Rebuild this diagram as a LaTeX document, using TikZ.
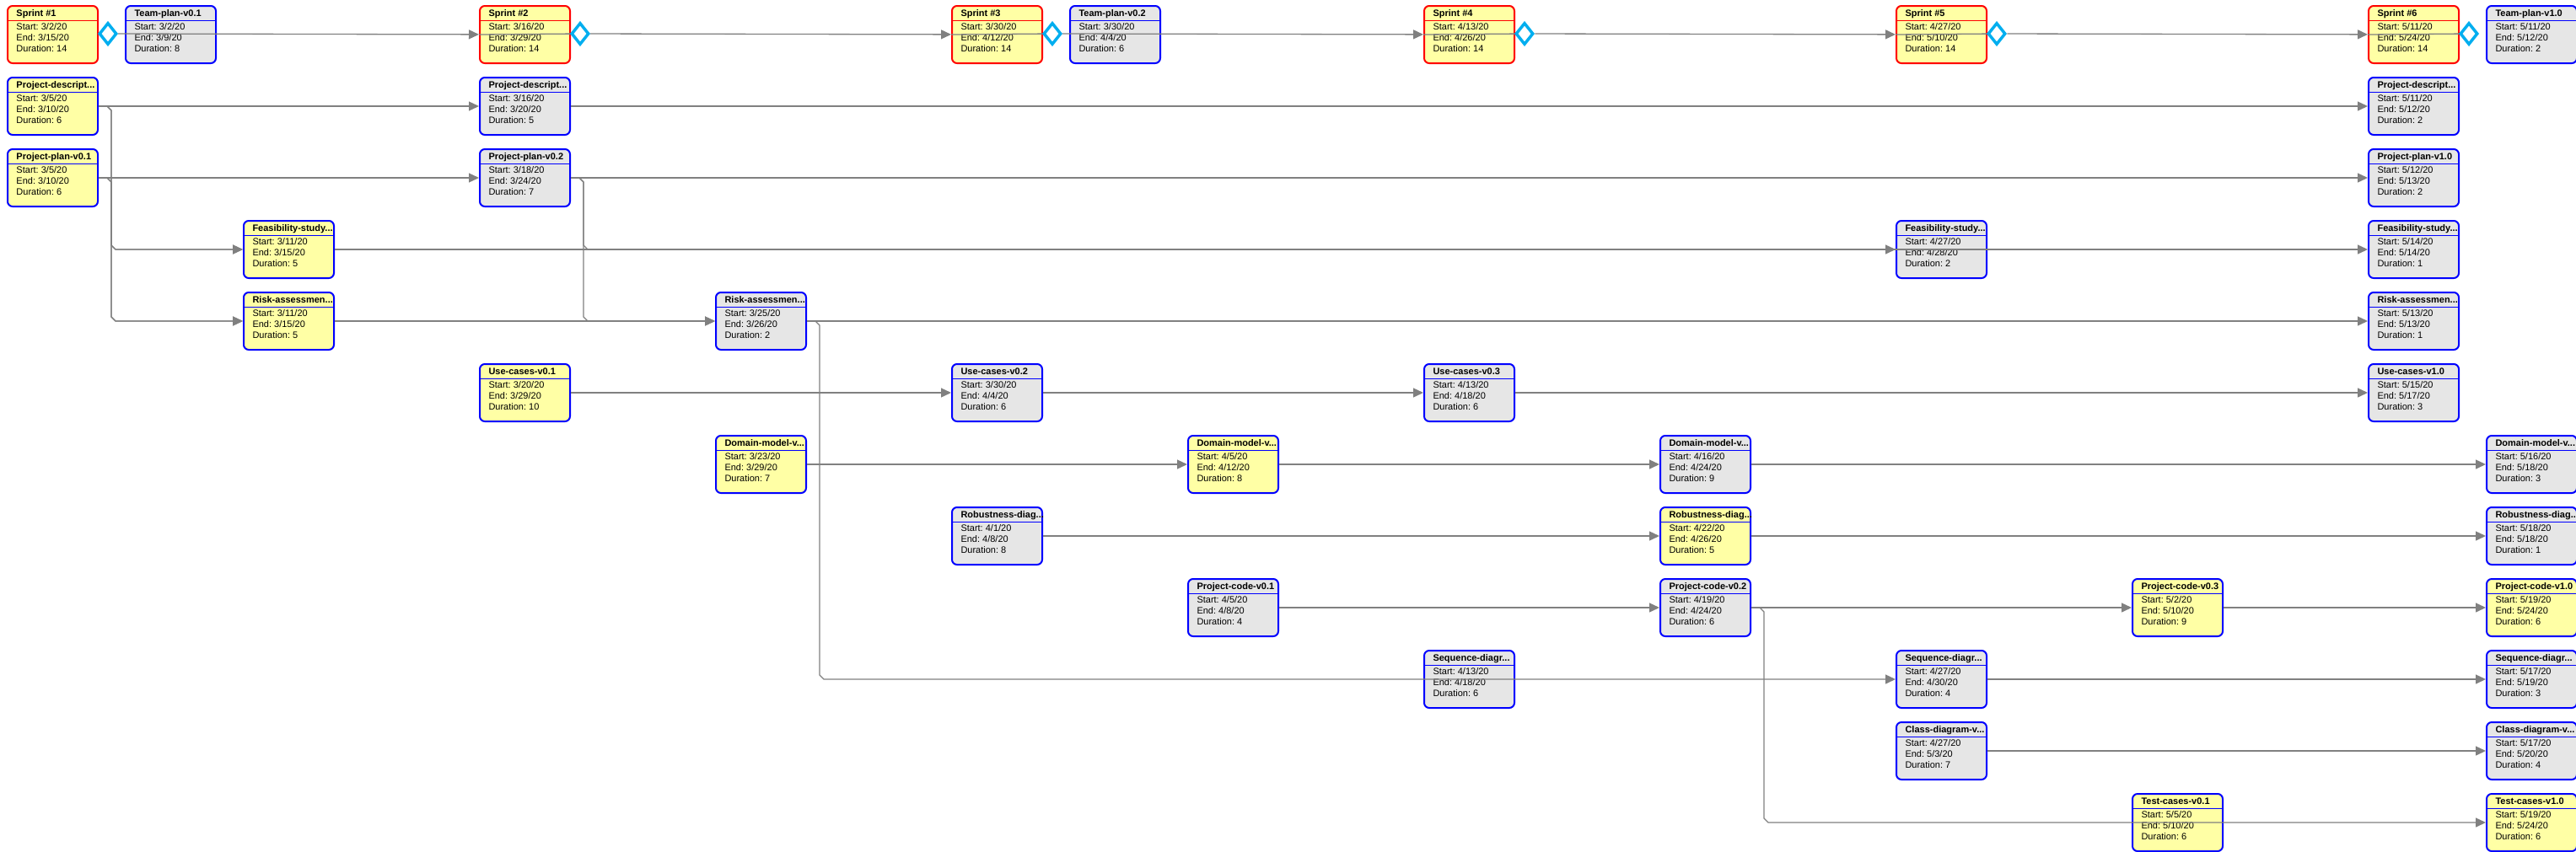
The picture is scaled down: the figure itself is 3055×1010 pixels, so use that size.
\documentclass[tikz,border=0pt]{standalone}
\usepackage{fontspec}
\setmainfont{Liberation Sans}
\usetikzlibrary{shapes.geometric,arrows.meta,calc}
\definecolor{tyellow}{RGB}{255,255,165}
\definecolor{tgrey}{RGB}{230,230,230}
\definecolor{mscyan}{RGB}{0,174,239}
\definecolor{linkgrey}{RGB}{128,128,128}
\newcommand{\card}[4]{\parbox[c][68pt][t]{86pt}{\frenchspacing\rule{0pt}{12.8pt}\makebox[86pt][l]{\bfseries #1}\\[2.9pt]Start: #2\\End: #3\\Duration: #4}}
\begin{document}
\begin{tikzpicture}[x=1pt,y=1pt,
  box/.style={draw=#1, line width=2pt, rounded corners=6pt, anchor=north west, inner xsep=10.5pt, inner ysep=0pt, font=\fontsize{11}{12.8}\selectfont,
    path picture={\draw[#1, line width=1pt] ([yshift=-17.3pt]path picture bounding box.north west) -- ([yshift=-17.3pt]path picture bounding box.north east);}},
  sprint/.style={box=red, fill=tyellow},
  ytask/.style={box=blue, fill=tyellow},
  gtask/.style={box=blue, fill=tgrey},
  ms/.style={diamond, draw=mscyan, line width=3.5pt, fill=white, minimum width=21pt, minimum height=26pt, inner sep=0pt},
  wire/.style={draw=linkgrey, line width=1.3pt},
  link/.style={wire, -{Triangle[length=12pt,width=11pt]}}]
\useasboundingbox (0,0) rectangle (3055,-1010);
\node[sprint] (sp1) at (8,-6){\card{Sprint \#1}{3/2/20}{3/15/20}{14}};
\node[gtask] (tp1) at (148,-6){\card{Team-plan-v0.1}{3/2/20}{3/9/20}{8}};
\node[sprint] (sp2) at (568,-6){\card{Sprint \#2}{3/16/20}{3/29/20}{14}};
\node[sprint] (sp3) at (1128,-6){\card{Sprint \#3}{3/30/20}{4/12/20}{14}};
\node[gtask] (tp2) at (1268,-6){\card{Team-plan-v0.2}{3/30/20}{4/4/20}{6}};
\node[sprint] (sp4) at (1688,-6){\card{Sprint \#4}{4/13/20}{4/26/20}{14}};
\node[sprint] (sp5) at (2248,-6){\card{Sprint \#5}{4/27/20}{5/10/20}{14}};
\node[sprint] (sp6) at (2808,-6){\card{Sprint \#6}{5/11/20}{5/24/20}{14}};
\node[gtask] (tp3) at (2948,-6){\card{Team-plan-v1.0}{5/11/20}{5/12/20}{2}};
\node[ytask] (pd1) at (8,-91){\card{Project-descript...}{3/5/20}{3/10/20}{6}};
\node[gtask] (pd2) at (568,-91){\card{Project-descript...}{3/16/20}{3/20/20}{5}};
\node[gtask] (pd3) at (2808,-91){\card{Project-descript...}{5/11/20}{5/12/20}{2}};
\node[ytask] (pp1) at (8,-176){\card{Project-plan-v0.1}{3/5/20}{3/10/20}{6}};
\node[gtask] (pp2) at (568,-176){\card{Project-plan-v0.2}{3/18/20}{3/24/20}{7}};
\node[gtask] (pp3) at (2808,-176){\card{Project-plan-v1.0}{5/12/20}{5/13/20}{2}};
\node[ytask] (fs1) at (288,-261){\card{Feasibility-study...}{3/11/20}{3/15/20}{5}};
\node[gtask] (fs2) at (2248,-261){\card{Feasibility-study...}{4/27/20}{4/28/20}{2}};
\node[gtask] (fs3) at (2808,-261){\card{Feasibility-study...}{5/14/20}{5/14/20}{1}};
\node[ytask] (ra1) at (288,-346){\card{Risk-assessmen...}{3/11/20}{3/15/20}{5}};
\node[gtask] (ra2) at (848,-346){\card{Risk-assessmen...}{3/25/20}{3/26/20}{2}};
\node[gtask] (ra3) at (2808,-346){\card{Risk-assessmen...}{5/13/20}{5/13/20}{1}};
\node[ytask] (uc1) at (568,-431){\card{Use-cases-v0.1}{3/20/20}{3/29/20}{10}};
\node[gtask] (uc2) at (1128,-431){\card{Use-cases-v0.2}{3/30/20}{4/4/20}{6}};
\node[gtask] (uc3) at (1688,-431){\card{Use-cases-v0.3}{4/13/20}{4/18/20}{6}};
\node[gtask] (uc4) at (2808,-431){\card{Use-cases-v1.0}{5/15/20}{5/17/20}{3}};
\node[ytask] (do1) at (848,-516){\card{Domain-model-v...}{3/23/20}{3/29/20}{7}};
\node[ytask] (do2) at (1408,-516){\card{Domain-model-v...}{4/5/20}{4/12/20}{8}};
\node[gtask] (do3) at (1968,-516){\card{Domain-model-v...}{4/16/20}{4/24/20}{9}};
\node[gtask] (do4) at (2948,-516){\card{Domain-model-v...}{5/16/20}{5/18/20}{3}};
\node[gtask] (rb1) at (1128,-601){\card{Robustness-diag...}{4/1/20}{4/8/20}{8}};
\node[ytask] (rb2) at (1968,-601){\card{Robustness-diag...}{4/22/20}{4/26/20}{5}};
\node[gtask] (rb3) at (2948,-601){\card{Robustness-diag...}{5/18/20}{5/18/20}{1}};
\node[gtask] (pc1) at (1408,-686){\card{Project-code-v0.1}{4/5/20}{4/8/20}{4}};
\node[gtask] (pc2) at (1968,-686){\card{Project-code-v0.2}{4/19/20}{4/24/20}{6}};
\node[ytask] (pc3) at (2528,-686){\card{Project-code-v0.3}{5/2/20}{5/10/20}{9}};
\node[ytask] (pc4) at (2948,-686){\card{Project-code-v1.0}{5/19/20}{5/24/20}{6}};
\node[gtask] (sd1) at (1688,-771){\card{Sequence-diagr...}{4/13/20}{4/18/20}{6}};
\node[gtask] (sd2) at (2248,-771){\card{Sequence-diagr...}{4/27/20}{4/30/20}{4}};
\node[gtask] (sd3) at (2948,-771){\card{Sequence-diagr...}{5/17/20}{5/19/20}{3}};
\node[gtask] (cd1) at (2248,-856){\card{Class-diagram-v...}{4/27/20}{5/3/20}{7}};
\node[gtask] (cd2) at (2948,-856){\card{Class-diagram-v...}{5/17/20}{5/20/20}{4}};
\node[ytask] (tc1) at (2528,-941){\card{Test-cases-v0.1}{5/5/20}{5/10/20}{6}};
\node[ytask] (tc2) at (2948,-941){\card{Test-cases-v1.0}{5/19/20}{5/24/20}{6}};
\node[ms] (ms1) at (128,-40){};
\node[ms] (ms2) at (688,-40){};
\node[ms] (ms3) at (1248,-40){};
\node[ms] (ms4) at (1808,-40){};
\node[ms] (ms5) at (2368,-40){};
\node[ms] (ms6) at (2928,-40){};
\draw[link] (ms1) -- (sp2);
\draw[wire] (sp2.west) -- (ms2);
\draw[link] (ms2) -- (sp3);
\draw[wire] (sp3.west) -- (ms3);
\draw[link] (ms3) -- (sp4);
\draw[wire] (sp4.west) -- (ms4);
\draw[link] (ms4) -- (sp5);
\draw[wire] (sp5.west) -- (ms5);
\draw[link] (ms5) -- (sp6);
\draw[wire] (sp6.west) -- (ms6);
\draw[link] (pd1) -- (pd2);
\draw[link] (pd2) -- (pd3);
\draw[link] (pp1) -- (pp2);
\draw[link] (pp2) -- (pp3);
\draw[link] (pd1.east) -- ++(10,0) -- ++(5,-5) -- ($(pd1.east |- fs1.west)+(15,5)$) -- ($(pd1.east |- fs1.west)+(20,0)$) -- (fs1.west);
\draw[link] (pd1.east) -- ++(10,0) -- ++(5,-5) -- ($(pd1.east |- ra1.west)+(15,5)$) -- ($(pd1.east |- ra1.west)+(20,0)$) -- (ra1.west);
\draw[link] (pp1.east) -- ++(10,0) -- ++(5,-5) -- ($(pp1.east |- fs1.west)+(15,5)$) -- ($(pp1.east |- fs1.west)+(20,0)$) -- (fs1.west);
\draw[link] (pp1.east) -- ++(10,0) -- ++(5,-5) -- ($(pp1.east |- ra1.west)+(15,5)$) -- ($(pp1.east |- ra1.west)+(20,0)$) -- (ra1.west);
\draw[link] (pp2.east) -- ++(10,0) -- ++(5,-5) -- ($(pp2.east |- fs2.west)+(15,5)$) -- ($(pp2.east |- fs2.west)+(20,0)$) -- (fs2.west);
\draw[link] (pp2.east) -- ++(10,0) -- ++(5,-5) -- ($(pp2.east |- ra2.west)+(15,5)$) -- ($(pp2.east |- ra2.west)+(20,0)$) -- (ra2.west);
\draw[link] (fs1) -- (fs3);
\draw[link] (ra1) -- (ra2);
\draw[link] (ra2) -- (ra3);
\draw[link] (ra2.east) -- ++(10,0) -- ++(5,-5) -- ($(ra2.east |- sd2.west)+(15,5)$) -- ($(ra2.east |- sd2.west)+(20,0)$) -- (sd2.west);
\draw[link] (uc1) -- (uc2);
\draw[link] (uc2) -- (uc3);
\draw[link] (uc3) -- (uc4);
\draw[link] (do1) -- (do2);
\draw[link] (do2) -- (do3);
\draw[link] (do3) -- (do4);
\draw[link] (rb1) -- (rb2);
\draw[link] (rb2) -- (rb3);
\draw[link] (pc1) -- (pc2);
\draw[link] (pc2) -- (pc3);
\draw[link] (pc3) -- (pc4);
\draw[link] (pc2.east) -- ++(10,0) -- ++(5,-5) -- ($(pc2.east |- tc2.west)+(15,5)$) -- ($(pc2.east |- tc2.west)+(20,0)$) -- (tc2.west);
\draw[link] (sd2) -- (sd3);
\draw[link] (cd1) -- (cd2);
\end{tikzpicture}
\end{document}
